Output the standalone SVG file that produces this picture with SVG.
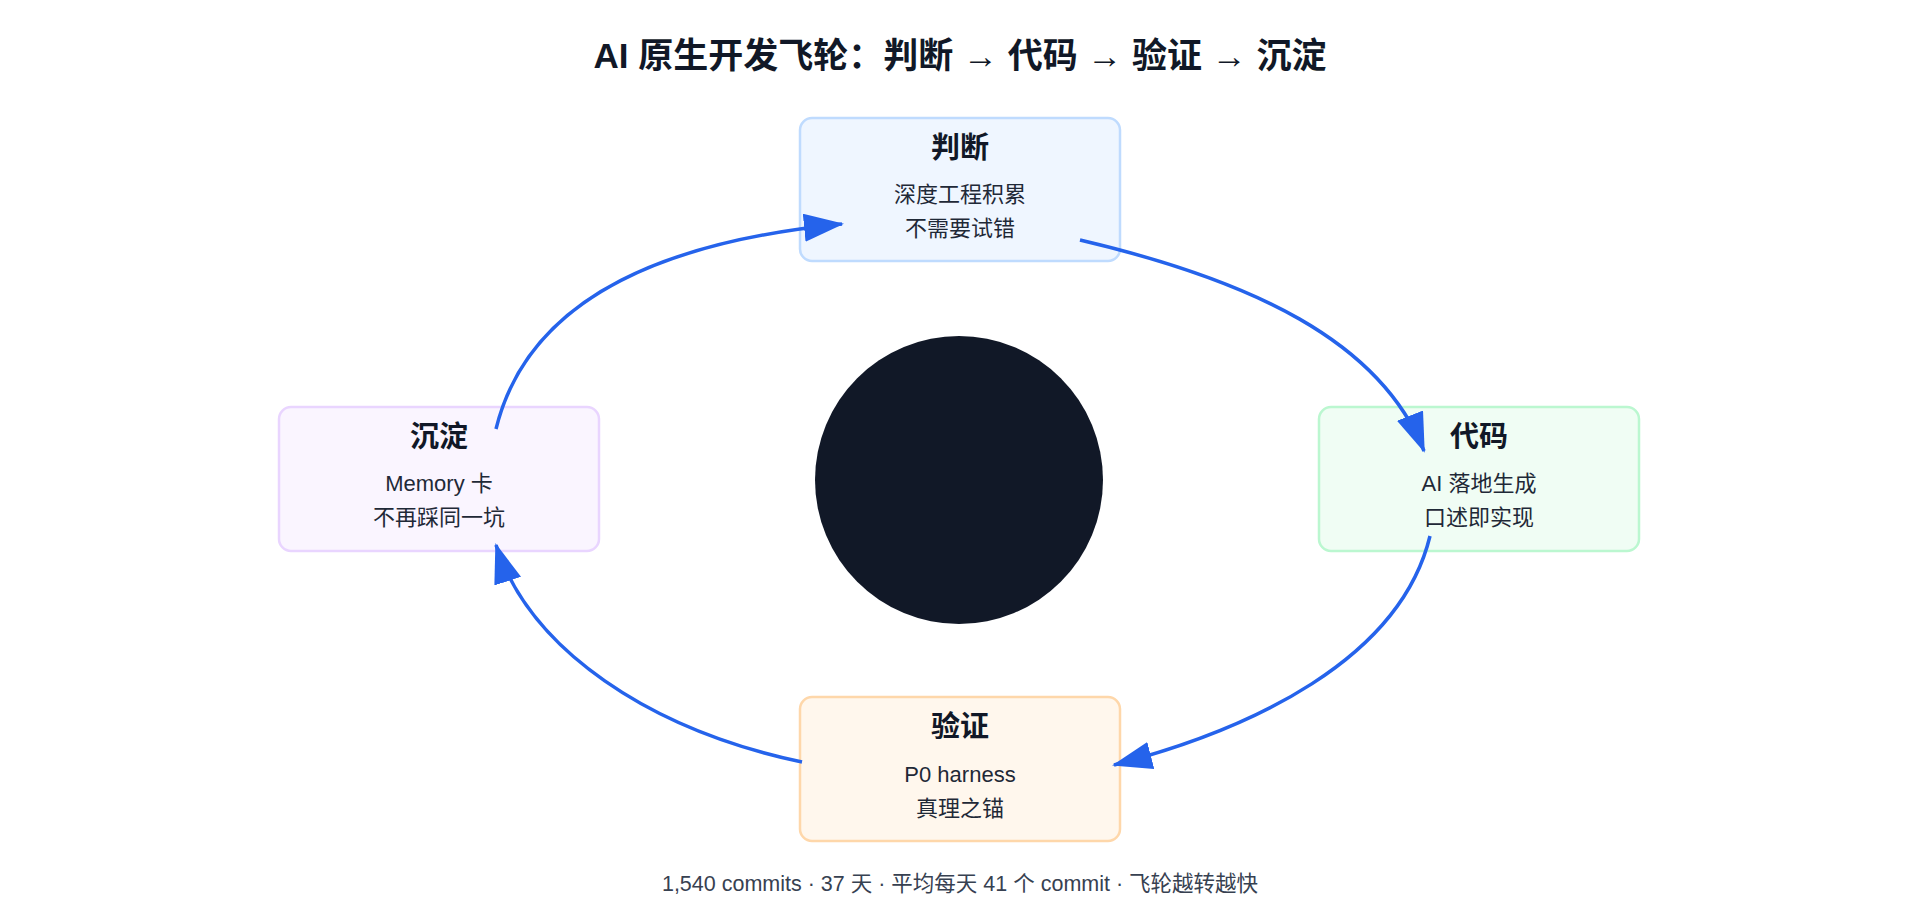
<svg xmlns="http://www.w3.org/2000/svg" width="1920" height="920" viewBox="0 0 1920 920">
<style>
text{font-family:"Liberation Sans","Noto Sans CJK SC",sans-serif;fill:#111827;text-anchor:middle}
.t{font-size:35px;font-weight:bold}
.h{font-size:29px;font-weight:bold}
.b{font-size:22px;fill:#1f2937}
.f{font-size:21.5px;fill:#374151}
.c{fill:none;stroke:#2563eb;stroke-width:3.5}
</style>
<defs>
<marker id="ah" markerUnits="userSpaceOnUse" markerWidth="40" markerHeight="30" refX="38" refY="14" orient="auto">
<path d="M0,0 L40,14 L0,28 Z" fill="#2563eb"/>
</marker>
</defs>
<rect width="1920" height="920" fill="#fff"/>
<text class="t" x="960" y="68">AI 原生开发飞轮：判断 → 代码 → 验证 → 沉淀</text>
<circle cx="959" cy="480" r="144" fill="#111827"/>
<g id="n1"><rect x="800" y="118" width="320" height="143" rx="12" fill="#eff6ff" stroke="#bfdbfe" stroke-width="2.5"/>
<text class="h" x="960" y="158">判断</text><text class="b" x="960" y="202">深度工程积累</text><text class="b" x="960" y="236">不需要试错</text></g>
<g id="n2"><rect x="1319" y="407" width="320" height="144" rx="12" fill="#f0fdf4" stroke="#bbf7d0" stroke-width="2.5"/>
<text class="h" x="1479" y="447">代码</text><text class="b" x="1479" y="491">AI 落地生成</text><text class="b" x="1479" y="525">口述即实现</text></g>
<g id="n3"><rect x="800" y="697" width="320" height="144" rx="12" fill="#fff7ed" stroke="#fed7aa" stroke-width="2.5"/>
<text class="h" x="960" y="737">验证</text><text class="b" x="960" y="782">P0 harness</text><text class="b" x="960" y="816">真理之锚</text></g>
<g id="n4"><rect x="279" y="407" width="320" height="144" rx="12" fill="#faf5ff" stroke="#e9d5ff" stroke-width="2.5"/>
<text class="h" x="439" y="447">沉淀</text><text class="b" x="439" y="491">Memory 卡</text><text class="b" x="439" y="525">不再踩同一坑</text></g>
<g id="connectors">
<path class="c" d="M496,429 C530,290 680,240 842,224" marker-end="url(#ah)"/>
<path class="c" d="M1080,240 C1250,280 1380,340 1424,451" marker-end="url(#ah)"/>
<path class="c" d="M1430,536 C1400,660 1250,730 1114,765" marker-end="url(#ah)"/>
<path class="c" d="M802,762 C650,730 530,650 496,545" marker-end="url(#ah)"/>
</g>
<text class="f" x="960" y="891">1,540 commits · 37 天 · 平均每天 41 个 commit · 飞轮越转越快</text>
</svg>
